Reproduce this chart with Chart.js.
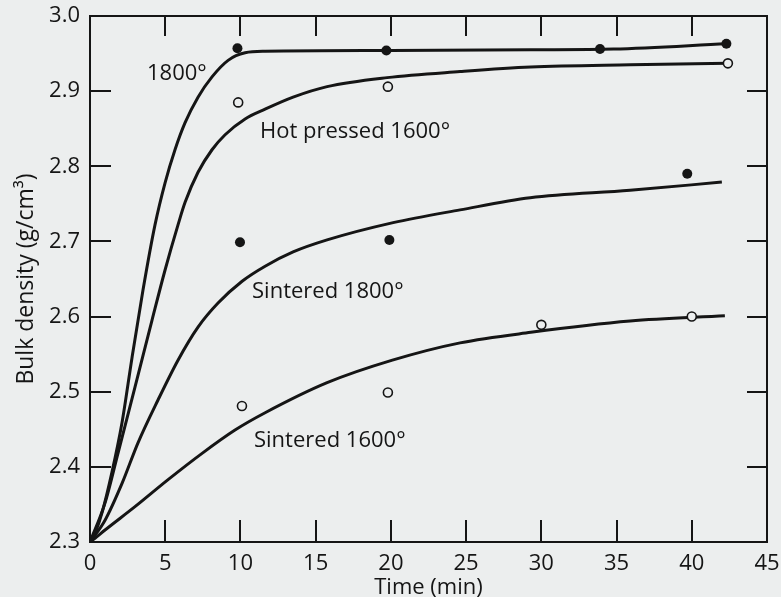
<!DOCTYPE html>
<html>
<head>
<meta charset="utf-8">
<script src="https://cdn.jsdelivr.net/npm/chart.js@4/dist/chart.umd.min.js"></script>
<style>
  html, body { margin: 0; padding: 0; background: #eceeee; }
  #wrap { width: 781px; height: 597px; }
</style>
</head>
<body>
<div id="wrap"><canvas id="c" width="781" height="597"></canvas></div>
<script>
// ---------------- data ----------------
const xTickValues = [0, 5, 10, 15, 20, 25, 30, 35, 40, 45];
const yTickValues = [2.3, 2.4, 2.5, 2.6, 2.7, 2.8, 2.9, 3.0];

// Hot pressed 1800° (filled dots)
const hp1800PointsX = [9.8, 19.7, 33.9, 42.3];
const hp1800PointsY = [2.957, 2.954, 2.956, 2.963];
const hp1800CurveX = [0, 0.40, 0.80, 1.46, 2.13, 2.79, 3.52, 4.32, 4.99, 5.65, 6.32, 7.18, 8.11, 9.18, 10.31, 11.64, 20, 29.3, 34.8, 42.3];
const hp1800CurveY = [2.300, 2.315, 2.339, 2.393, 2.459, 2.545, 2.635, 2.722, 2.778, 2.822, 2.858, 2.892, 2.919, 2.941, 2.951, 2.953, 2.954, 2.955, 2.956, 2.963];

// Hot pressed 1600° (open circles)
const hp1600PointsX = [9.85, 19.8, 42.4];
const hp1600PointsY = [2.885, 2.906, 2.937];
const hp1600CurveX = [0, 1.0, 1.86, 2.99, 4.12, 4.99, 5.85, 6.32, 7.18, 8.11, 8.98, 10.31, 11.64, 13.5, 15.76, 19.75, 24.6, 29.3, 35.9, 42.4];
const hp1600CurveY = [2.300, 2.352, 2.418, 2.506, 2.595, 2.662, 2.722, 2.752, 2.792, 2.822, 2.842, 2.863, 2.876, 2.892, 2.906, 2.918, 2.926, 2.932, 2.935, 2.937];

// Sintered 1800° (filled dots)
const s1800PointsX = [9.97, 19.9, 39.7];
const s1800PointsY = [2.699, 2.702, 2.790];
const s1800CurveX = [0, 1.0, 2.13, 3.19, 4.52, 5.85, 7.18, 8.51, 10.11, 11.64, 13.5, 15.76, 20.15, 24.6, 29.26, 35.9, 42.0];
const s1800CurveY = [2.300, 2.329, 2.378, 2.432, 2.489, 2.542, 2.586, 2.618, 2.647, 2.667, 2.686, 2.702, 2.725, 2.742, 2.758, 2.768, 2.779];

// Sintered 1600° (open circles)
const s1600PointsX = [10.1, 19.8, 30.0, 40.0];
const s1600PointsY = [2.481, 2.499, 2.589, 2.600];
const s1600CurveX = [0, 0.33, 1.0, 2.99, 5.19, 7.45, 9.64, 11.64, 15.76, 20.1, 24.6, 29.3, 35.9, 42.2];
const s1600CurveY = [2.300, 2.305, 2.316, 2.347, 2.383, 2.418, 2.449, 2.472, 2.512, 2.542, 2.565, 2.579, 2.594, 2.601];

const curveLabels = ['1800°', 'Hot pressed 1600°', 'Sintered 1800°', 'Sintered 1600°'];
const xTitle = 'Time (min)';
const yTitle = 'Bulk density (g/cm³)';

// ---------------- presentation ----------------
const BG = '#eceeee';
const INK = '#151515';
const FONT = '"Open Sans", "Liberation Sans", sans-serif';
// label anchors (data coordinates, left / baseline)
const labelAnchors = [
  { x: 3.79, y: 2.915 },
  { x: 11.3, y: 2.838 },
  { x: 10.77, y: 2.625 },
  { x: 10.9, y: 2.426 }
];

function zip(xs, ys) { return xs.map((x, i) => ({ x: x, y: ys[i] })); }

function curveDataset(xs, ys) {
  return {
    data: zip(xs, ys),
    borderColor: INK,
    borderWidth: 3,
    pointRadius: 0,
    fill: false,
    cubicInterpolationMode: 'monotone',
    order: 2
  };
}
function pointDataset(xs, ys, filled) {
  return {
    data: zip(xs, ys),
    showLine: false,
    pointRadius: filled ? 5 : 4.5,
    pointBorderWidth: filled ? 0 : 1.6,
    pointBorderColor: INK,
    pointBackgroundColor: filled ? INK : BG,
    order: 1
  };
}

const frameAndTicks = {
  id: 'frameAndTicks',
  beforeDatasetsDraw(chart) {
    const { ctx, chartArea: a, scales: { x, y } } = chart;
    ctx.save();
    ctx.strokeStyle = INK;
    ctx.lineWidth = 2;
    ctx.strokeRect(a.left, a.top, a.right - a.left, a.bottom - a.top);
    ctx.beginPath();
    xTickValues.slice(1, -1).forEach(v => {
      const px = Math.round(x.getPixelForValue(v));
      ctx.moveTo(px, a.bottom); ctx.lineTo(px, a.bottom - 22);
      ctx.moveTo(px, a.top); ctx.lineTo(px, a.top + 20);
    });
    yTickValues.slice(1, -1).forEach(v => {
      const py = Math.round(y.getPixelForValue(v));
      ctx.moveTo(a.left, py); ctx.lineTo(a.left + 21, py);
      ctx.moveTo(a.right, py); ctx.lineTo(a.right - 20, py);
    });
    ctx.stroke();
    ctx.restore();
  },
  afterDatasetsDraw(chart) {
    const { ctx, scales: { x, y } } = chart;
    ctx.save();
    ctx.fillStyle = INK;
    ctx.font = '22px ' + FONT;
    ctx.textAlign = 'left';
    ctx.textBaseline = 'alphabetic';
    curveLabels.forEach((t, i) => {
      ctx.fillText(t, x.getPixelForValue(labelAnchors[i].x), y.getPixelForValue(labelAnchors[i].y));
    });
    ctx.restore();
  }
};

new Chart(document.getElementById('c'), {
  type: 'line',
  data: {
    datasets: [
      pointDataset(hp1800PointsX, hp1800PointsY, true),
      pointDataset(hp1600PointsX, hp1600PointsY, false),
      pointDataset(s1800PointsX, s1800PointsY, true),
      pointDataset(s1600PointsX, s1600PointsY, false),
      curveDataset(hp1800CurveX, hp1800CurveY),
      curveDataset(hp1600CurveX, hp1600CurveY),
      curveDataset(s1800CurveX, s1800CurveY),
      curveDataset(s1600CurveX, s1600CurveY)
    ]
  },
  options: {
    responsive: false,
    animation: false,
    devicePixelRatio: 1,
    layout: { padding: { left: 0, right: 14, top: 16, bottom: 0 } },
    plugins: { legend: { display: false }, tooltip: { enabled: false } },
    scales: {
      x: {
        type: 'linear',
        min: 0, max: 45,
        afterBuildTicks(scale) { scale.ticks = xTickValues.map(v => ({ value: v })); },
        afterFit(scale) { scale.height = 55; scale.paddingLeft = 0; scale.paddingRight = 0; },
        grid: { display: false, drawTicks: false },
        border: { display: false },
        ticks: {
          color: INK, padding: 9, maxRotation: 0, autoSkip: false,
          font: { family: FONT, size: 22 },
          callback: v => String(v)
        },
        title: {
          display: true, text: xTitle, color: INK,
          font: { family: FONT, size: 22, lineHeight: 1 },
          padding: { top: 0, bottom: -2 }
        }
      },
      y: {
        type: 'linear',
        min: 2.3, max: 3.0,
        afterBuildTicks(scale) { scale.ticks = yTickValues.map(v => ({ value: v })); },
        afterFit(scale) { scale.width = 90; scale.paddingTop = 0; scale.paddingBottom = 0; },
        grid: { display: false, drawTicks: false },
        border: { display: false },
        ticks: {
          color: INK, padding: 10, autoSkip: false,
          font: { family: FONT, size: 22 },
          callback: v => Number(v).toFixed(1)
        },
        title: {
          display: true, text: yTitle, color: INK,
          font: { family: FONT, size: 23, lineHeight: 1 },
          padding: { top: 15, bottom: 0 }
        }
      }
    }
  },
  plugins: [frameAndTicks]
});
</script>
</body>
</html>
